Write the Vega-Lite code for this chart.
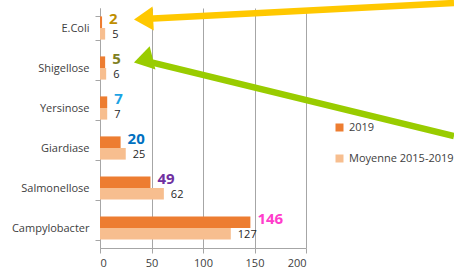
{
  "$schema": "https://vega.github.io/schema/vega-lite/v6.json",
  "width": 206,
  "height": 240,
  "autosize": "none",
  "padding": {"left": 100, "top": 8, "right": 148, "bottom": 23},
  "config": {"view": {"stroke": null}, "font": "Open Sans"},
  "datasets": {
    "cases": [
      {"cat": "E.Coli", "serie": "2019", "value": 2},
      {"cat": "E.Coli", "serie": "Moyenne 2015-2019", "value": 5},
      {"cat": "Shigellose", "serie": "2019", "value": 5},
      {"cat": "Shigellose", "serie": "Moyenne 2015-2019", "value": 6},
      {"cat": "Yersinose", "serie": "2019", "value": 7},
      {"cat": "Yersinose", "serie": "Moyenne 2015-2019", "value": 7},
      {"cat": "Giardiase", "serie": "2019", "value": 20},
      {"cat": "Giardiase", "serie": "Moyenne 2015-2019", "value": 25},
      {"cat": "Salmonellose", "serie": "2019", "value": 49},
      {"cat": "Salmonellose", "serie": "Moyenne 2015-2019", "value": 62},
      {"cat": "Campylobacter", "serie": "2019", "value": 146},
      {"cat": "Campylobacter", "serie": "Moyenne 2015-2019", "value": 127}
    ],
    "arrows": [
      {"arrow": "E.Coli", "x": 42.3, "y": 10.9, "x2": 343.7, "y2": -5},
      {"arrow": "Shigellose", "x": 42.0, "y": 52.3, "x2": 343.7, "y2": 128}
    ]
  },
  "layer": [
    {
      "data": {"name": "cases"},
      "encoding": {
        "y": {
          "field": "cat", "type": "nominal",
          "sort": ["E.Coli", "Shigellose", "Yersinose", "Giardiase", "Salmonellose", "Campylobacter"],
          "scale": {"paddingInner": 0.42, "paddingOuter": 0.21},
          "axis": {
            "title": null, "tickBand": "extent", "domainColor": "#A6A6A6", "tickColor": "#A6A6A6",
            "tickSize": 5, "labelFontSize": 11, "labelColor": "#404040", "labelPadding": 6, "grid": false
          }
        },
        "yOffset": {
          "field": "serie", "type": "nominal",
          "scale": {"domain": ["2019", "Moyenne 2015-2019"], "paddingInner": 0, "paddingOuter": 0}
        },
        "x": {
          "field": "value", "type": "quantitative",
          "scale": {"domain": [0, 200], "nice": false},
          "axis": {
            "title": null, "values": [0, 50, 100, 150, 200], "grid": true, "gridColor": "#A6A6A6",
            "domainColor": "#A6A6A6", "tickColor": "#A6A6A6", "tickSize": 5, "labelFontSize": 11,
            "labelColor": "#404040", "labelPadding": 4
          }
        }
      },
      "layer": [
        {
          "mark": {"type": "bar"},
          "encoding": {
            "color": {
              "field": "serie", "type": "nominal",
              "scale": {"domain": ["2019", "Moyenne 2015-2019"], "range": ["#ED7D31", "#F7BE8F"]},
              "legend": {
                "orient": "none", "legendX": 234, "legendY": 114, "direction": "vertical", "title": null,
                "symbolType": "square", "symbolSize": 64, "symbolStrokeWidth": 0, "labelFontSize": 11,
                "labelColor": "#404040", "rowPadding": 19, "padding": 0, "labelOffset": 4
              }
            }
          }
        },
        {
          "transform": [{"filter": "datum.serie === '2019'"}],
          "mark": {"type": "text", "align": "left", "baseline": "middle", "dx": 7, "dy": -3, "fontSize": 15, "fontWeight": "bold"},
          "encoding": {
            "text": {"field": "value", "type": "quantitative"},
            "color": {
              "field": "cat", "type": "nominal",
              "scale": {
                "domain": ["E.Coli", "Shigellose", "Yersinose", "Giardiase", "Salmonellose", "Campylobacter"],
                "range": ["#BF8F00", "#7F7F22", "#1CA3E4", "#0070C0", "#7030A0", "#FF3DCB"]
              },
              "legend": null
            }
          }
        },
        {
          "transform": [{"filter": "datum.serie !== '2019'"}],
          "mark": {"type": "text", "align": "left", "baseline": "middle", "dx": 7, "dy": 1.5, "fontSize": 11, "color": "#262626"},
          "encoding": {
            "text": {"field": "value", "type": "quantitative"}
          }
        }
      ],
      "resolve": {"scale": {"color": "independent"}}
    },
    {
      "data": {"name": "arrows"},
      "encoding": {
        "x": {"field": "x", "type": "quantitative", "scale": {"domain": [0, 200], "nice": false}},
        "y": {"field": "y", "type": "quantitative", "scale": {"domain": [0, 240], "reverse": true, "nice": false, "zero": false}, "axis": null}
      },
      "layer": [
        {
          "transform": [{"filter": "datum.arrow === 'E.Coli'"}],
          "mark": {"type": "rule", "color": "#FFC800", "strokeWidth": 6.5},
          "encoding": {"x2": {"field": "x2"}, "y2": {"field": "y2"}}
        },
        {
          "transform": [{"filter": "datum.arrow === 'Shigellose'"}],
          "mark": {"type": "rule", "color": "#99CC00", "strokeWidth": 6.5},
          "encoding": {"x2": {"field": "x2"}, "y2": {"field": "y2"}}
        },
        {
          "transform": [{"filter": "datum.arrow === 'E.Coli'"}],
          "mark": {"type": "point", "shape": "M-0.8,0L0.8,-1L0.8,1Z", "size": 576, "filled": true, "opacity": 1, "color": "#FFC800", "angle": 357}
        },
        {
          "transform": [{"filter": "datum.arrow === 'Shigellose'"}],
          "mark": {"type": "point", "shape": "M-0.8,0L0.8,-1L0.8,1Z", "size": 576, "filled": true, "opacity": 1, "color": "#99CC00", "angle": 346}
        }
      ]
    }
  ],
  "resolve": {"scale": {"y": "independent", "color": "independent"}}
}
